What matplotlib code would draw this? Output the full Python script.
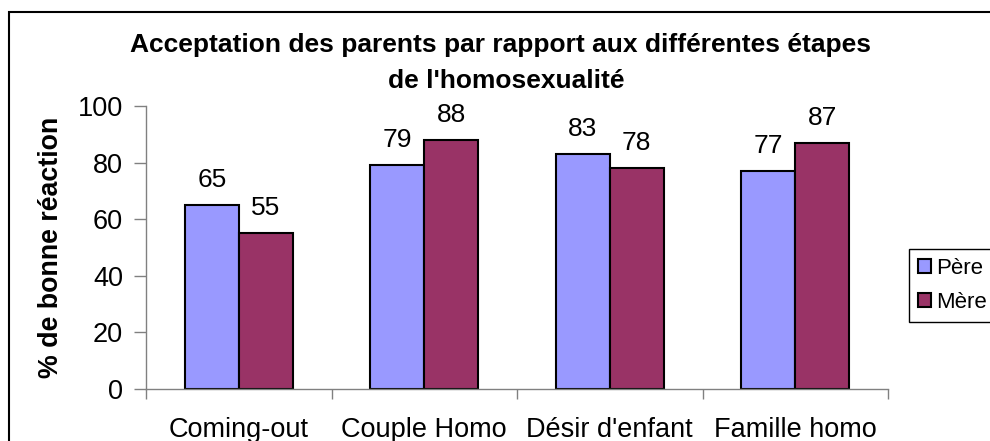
import matplotlib
matplotlib.use('Agg')
import matplotlib.pyplot as plt
import numpy as np
from matplotlib.patches import Rectangle

categories = ['Coming-out', 'Couple Homo', "Désir d'enfant", 'Famille homo']
pere = [65, 79, 83, 77]
mere = [55, 88, 78, 87]
series_names = ['Père', 'Mère']
title_lines = ['Acceptation des parents par rapport aux différentes étapes',
               "de l'homosexualité"]
ylabel = '% de bonne réaction'

plt.rcParams['font.family'] = ['Liberation Sans', 'DejaVu Sans']

W, H = 990, 441
fig = plt.figure(figsize=(W / 100, H / 100), dpi=100)
ax = fig.add_axes([146 / W, 1 - 389 / H, (888 - 146) / W, (389 - 106) / H])

x = np.arange(len(categories))
bw = 0.29
b1 = ax.bar(x - bw / 2, pere, bw, color='#9999FF', edgecolor='black', linewidth=1.5, label=series_names[0])
b2 = ax.bar(x + bw / 2, mere, bw, color='#993366', edgecolor='black', linewidth=1.5, label=series_names[1])

for bars, vals in ((b1, pere), (b2, mere)):
    for r, v in zip(bars, vals):
        ax.annotate(str(v), (r.get_x() + r.get_width() / 2, v), xytext=(0, 13),
                    textcoords='offset points', ha='center', va='baseline', fontsize=19)

ax.set_xlim(-0.5, len(categories) - 0.5)
ax.set_ylim(0, 100)
ax.set_yticks(range(0, 101, 20))
ax.set_xticks(x)
ax.set_xticklabels(categories, fontsize=19.5)
ax.set_xticks(np.arange(len(categories) + 1) - 0.5, minor=True)
ax.tick_params(axis='x', which='major', length=0, pad=20)
ax.tick_params(axis='x', which='minor', length=7, width=1, color='#808080')
ax.tick_params(axis='y', length=9, width=1, color='#808080', pad=7.5, labelsize=19.5)

for s in ['top', 'right']:
    ax.spines[s].set_visible(False)
for s in ['left', 'bottom']:
    ax.spines[s].set_color('#808080')
    ax.spines[s].set_linewidth(1)

fig.text(500 / W, 1 - 52 / H, title_lines[0], ha='center', va='baseline', fontsize=19, fontweight='bold')
fig.text(506 / W, 1 - 88 / H, title_lines[1], ha='center', va='baseline', fontsize=19, fontweight='bold')
fig.text(51 / W, 1 - 247 / H, ylabel, rotation=90, ha='center', va='center', fontsize=19.3, fontweight='bold')

leg = fig.legend(loc='upper left', bbox_to_anchor=(909 / W, 1 - 249 / H), fontsize=16,
                 handlelength=0.6, handleheight=0.6, handletextpad=0.2, labelspacing=0.6,
                 borderpad=0.4, borderaxespad=0, fancybox=False, framealpha=1, edgecolor='black')
leg.get_frame().set_linewidth(1)

fig.add_artist(Rectangle((9 / W, -0.1), 1.2, 1.1 - 12 / H, transform=fig.transFigure,
                         fill=False, edgecolor='black', linewidth=1.5))

fig.savefig('out.png', dpi=100)
